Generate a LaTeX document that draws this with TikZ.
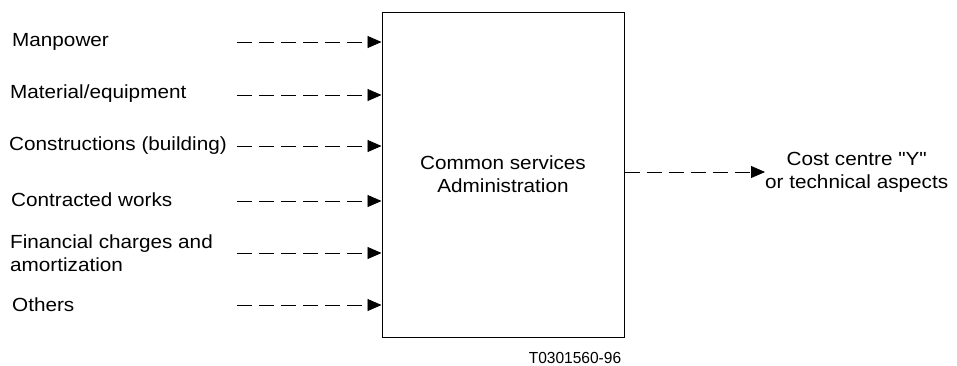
\documentclass[tikz,border=0pt]{standalone}
\usepackage{fontspec}
\setmainfont{Liberation Sans}[Ligatures=TeXOff, FakeStretch=1.09]
\newfontfamily\reffont{Liberation Sans}[Ligatures=TeXOff, FakeStretch=0.97]
\usetikzlibrary{arrows.meta}
\begin{document}
\begin{tikzpicture}[x=1pt,y=-1pt,
  lbl/.style={font=\fontsize{19}{23}\selectfont, inner sep=0pt, align=left},
  flow/.style={draw, line width=0.9pt, dash pattern=on 15pt off 7pt, -{Triangle[length=14pt,width=12pt]}},
  mainbox/.style={draw, line width=1pt, minimum width=242pt, minimum height=325pt, inner sep=0pt, align=center, font=\fontsize{19}{23}\selectfont}]
\useasboundingbox (0,0) rectangle (957,365);
\node[mainbox] (box) at (503,174.5) {Common services\\Administration};
\node[lbl, anchor=west] (l1) at (12,42) {Manpower};
\node[lbl, anchor=west] (l2) at (10,94) {Material/equipment};
\node[lbl, anchor=west] (l3) at (9,146) {Constructions (building)};
\node[lbl, anchor=west] (l4) at (11,200) {Contracted works};
\node[lbl, anchor=west] (l5) at (10,253) {Financial charges and\\amortization};
\node[lbl, anchor=west] (l6) at (12,305) {Others};
\coordinate (s1) at (237,42);
\coordinate (s2) at (237,95);
\coordinate (s3) at (237,146);
\coordinate (s4) at (237,201);
\coordinate (s5) at (237,253);
\coordinate (s6) at (237,305);
\foreach \i in {1,...,6} {
  \draw[flow] (s\i) -- (box.west |- s\i);
}
\node[lbl, align=center, anchor=west] (out) at (765,172) {Cost centre "Y"\\or technical aspects};
\draw[flow] (box.east |- out.west) -- (out.west);
\node[font=\reffont\fontsize{16}{18}\selectfont, inner sep=0pt] (ref) at (575,358) {T0301560-96};
\end{tikzpicture}
\end{document}
